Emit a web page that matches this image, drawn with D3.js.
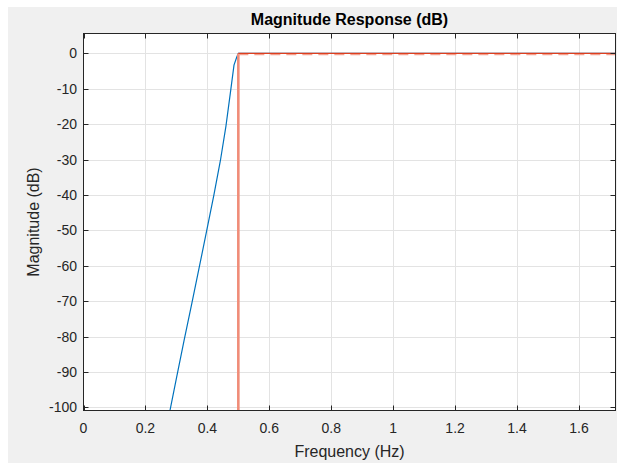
<!DOCTYPE html>
<html>
<head>
<meta charset="utf-8">
<script src="https://cdn.jsdelivr.net/npm/d3@7"></script>
<style>
  body { margin: 0; background: #fff; }
  svg { display: block; font-family: "Liberation Sans", Arial, sans-serif; }
</style>
</head>
<body>
<div id="vis"></div>
<script>
// response of the filter (Hz, dB)
const freqs = [0.275, 0.280, 0.300, 0.325, 0.350, 0.374, 0.398, 0.421, 0.442, 0.460, 0.476, 0.486, 0.495, 0.500, 1.718];
const mags  = [-103, -100.5, -91.8, -81, -70.5, -60.3, -50, -40, -30.3, -20.5, -10, -3.3, -1, 0, 0];

// the mask drawn in red
const maskFreqs = [0.5, 0.5, 1.718];
const maskMags  = [-105, 0, 0];

const xTicks = [0, 0.2, 0.4, 0.6, 0.8, 1, 1.2, 1.4, 1.6];
const yTicks = [0, -10, -20, -30, -40, -50, -60, -70, -80, -90, -100];

const width = 617;
const height = 463;
const margin = { top: 33.5, right: 1.5, bottom: 52.5, left: 83.5 };

const svg = d3.select('#vis')
  .append('svg')
  .attr('width', width)
  .attr('height', height);

// grey figure background
svg.append('rect')
  .attr('x', 8).attr('y', 7)
  .attr('width', width - 8).attr('height', height - 7)
  .attr('fill', '#f0f0f0');

const x = d3.scaleLinear()
  .domain([0, 1.718])
  .range([margin.left, width - margin.right]);

const y = d3.scaleLinear()
  .domain([-100.85, 5.64])
  .range([height - margin.bottom, margin.top]);

svg.append('rect')
  .attr('x', x.range()[0]).attr('y', y.range()[1])
  .attr('width', x.range()[1] - x.range()[0])
  .attr('height', y.range()[0] - y.range()[1])
  .attr('fill', '#fff');

// grid
svg.append('g')
  .selectAll('line')
  .data(xTicks.filter(d => d > 0))
  .join('line')
  .attr('x1', d => Math.round(x(d)) + 0.5).attr('x2', d => Math.round(x(d)) + 0.5)
  .attr('y1', y.range()[1]).attr('y2', y.range()[0])
  .attr('stroke', '#e3e3e3');

svg.append('g')
  .selectAll('line')
  .data(yTicks)
  .join('line')
  .attr('x1', x.range()[0]).attr('x2', x.range()[1])
  .attr('y1', d => Math.round(y(d)) + 0.5).attr('y2', d => Math.round(y(d)) + 0.5)
  .attr('stroke', '#e3e3e3');

svg.append('clipPath').attr('id', 'clip')
  .append('rect')
  .attr('x', x.range()[0]).attr('y', y.range()[1])
  .attr('width', x.range()[1] - x.range()[0])
  .attr('height', y.range()[0] - y.range()[1]);

const plot = svg.append('g').attr('clip-path', 'url(#clip)');

const line = d3.line()
  .x(d => x(d[0]))
  .y(d => y(d[1]));

const resp = freqs.map((f, i) => [f, mags[i]]);
const mask = maskFreqs.map((f, i) => [f, maskMags[i]]);

plot.append('path')
  .datum(resp)
  .attr('fill', 'none')
  .attr('stroke', '#0072bd')
  .attr('stroke-width', 1.2)
  .attr('d', line);

// vertical part of the mask, light red
plot.append('path')
  .datum(mask.slice(0, 2))
  .attr('fill', 'none')
  .attr('stroke', '#f08c78')
  .attr('stroke-width', 2.6)
  .attr('d', line);

// flat part: light dashes under a thin red line
plot.append('path')
  .datum(mask.slice(1))
  .attr('fill', 'none')
  .attr('stroke', '#f3a08e')
  .attr('stroke-width', 2)
  .attr('stroke-dasharray', '10,6')
  .attr('transform', 'translate(0,0.8)')
  .attr('d', line);

plot.append('path')
  .datum(mask.slice(1))
  .attr('fill', 'none')
  .attr('stroke', '#de3f1f')
  .attr('stroke-width', 1.2)
  .attr('d', line);

// axes box with inward ticks
const axisColor = '#262626';
const tickLen = 5;
const [x0, x1] = x.range();
const [y1, y0] = y.range();

svg.append('rect')
  .attr('x', x0).attr('y', y0)
  .attr('width', x1 - x0).attr('height', y1 - y0)
  .attr('fill', 'none')
  .attr('stroke', axisColor);

const ticks = svg.append('g').attr('stroke', axisColor);
xTicks.forEach(d => {
  const px = Math.round(x(d)) + 0.5;
  ticks.append('line').attr('x1', px).attr('x2', px).attr('y1', y1).attr('y2', y1 - tickLen);
  ticks.append('line').attr('x1', px).attr('x2', px).attr('y1', y0).attr('y2', y0 + tickLen);
});
yTicks.forEach(d => {
  const py = Math.round(y(d)) + 0.5;
  ticks.append('line').attr('x1', x0).attr('x2', x0 + tickLen).attr('y1', py).attr('y2', py);
  ticks.append('line').attr('x1', x1).attr('x2', x1 - tickLen).attr('y1', py).attr('y2', py);
});

svg.append('g')
  .selectAll('text')
  .data(xTicks)
  .join('text')
  .attr('x', d => x(d))
  .attr('y', 433)
  .attr('text-anchor', 'middle')
  .attr('font-size', 14)
  .attr('fill', axisColor)
  .text(d => d);

svg.append('g')
  .selectAll('text')
  .data(yTicks)
  .join('text')
  .attr('x', 77)
  .attr('y', d => y(d) + 5)
  .attr('text-anchor', 'end')
  .attr('font-size', 14)
  .attr('fill', axisColor)
  .text(d => d);

svg.append('text')
  .attr('x', (x0 + x1) / 2)
  .attr('y', 25)
  .attr('text-anchor', 'middle')
  .attr('font-size', 16)
  .attr('font-weight', 'bold')
  .attr('fill', '#000')
  .text('Magnitude Response (dB)');

svg.append('text')
  .attr('x', (x0 + x1) / 2)
  .attr('y', 457)
  .attr('text-anchor', 'middle')
  .attr('font-size', 16)
  .attr('fill', axisColor)
  .text('Frequency (Hz)');

svg.append('text')
  .attr('transform', `translate(39,${(y0 + y1) / 2}) rotate(-90)`)
  .attr('text-anchor', 'middle')
  .attr('font-size', 16)
  .attr('fill', axisColor)
  .text('Magnitude (dB)');
</script>
</body>
</html>
